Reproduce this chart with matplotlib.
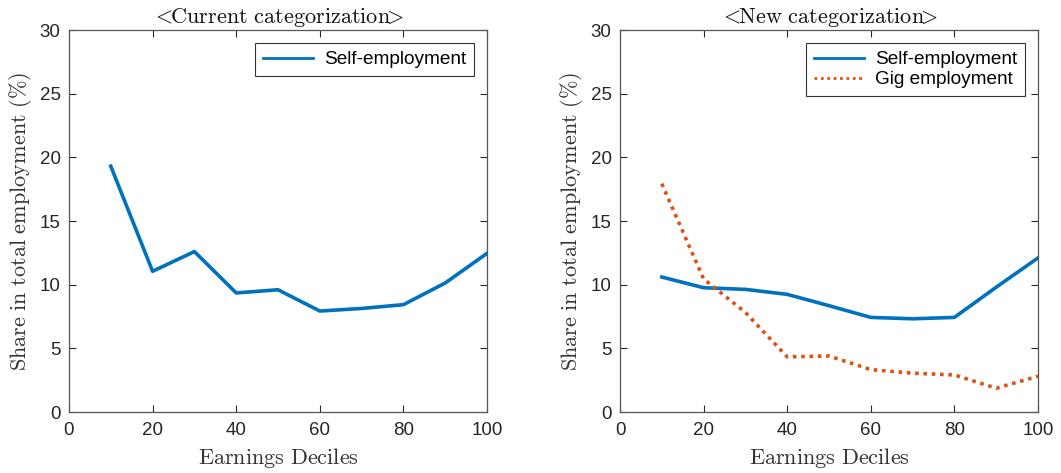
import matplotlib
matplotlib.use("Agg")
import matplotlib.pyplot as plt

# Earnings deciles (percentile upper bounds)
deciles = [10, 20, 30, 40, 50, 60, 70, 80, 90, 100]

# Current categorization: self-employment share (%)
self_emp_current = [19.3, 11.05, 12.6, 9.35, 9.6, 7.93, 8.13, 8.43, 10.13, 12.46]

# New categorization: self-employment and gig employment shares (%)
self_emp_new = [10.6, 9.76, 9.63, 9.24, 8.35, 7.43, 7.32, 7.43, 9.8, 12.1]
gig_emp_new = [17.93, 10.45, 7.82, 4.33, 4.4, 3.33, 3.05, 2.91, 1.87, 2.81]

titles = [r"$<\!\!\mathrm{Current\ categorization}\!\!>$",
          r"$<\!\!\mathrm{New\ categorization}\!\!>$"]
xlabel = r"$\mathrm{Earnings\ Deciles}$"
ylabel = r"$\mathrm{Share\ in\ total\ employment\ (\%)}$"
xticks = [0, 20, 40, 60, 80, 100]
yticks = [0, 5, 10, 15, 20, 25, 30]

BLUE = "#0072BD"
ORANGE = "#D95319"
AXCOL = "#262626"

plt.rcParams["mathtext.fontset"] = "cm"
plt.rcParams["font.family"] = ["Liberation Sans", "DejaVu Sans"]

fig = plt.figure(figsize=(10.61, 4.73), dpi=100)
W, H = 1061, 473
ax_l = fig.add_axes([69 / W, (H - 412) / H, 418 / W, 382 / H])
ax_r = fig.add_axes([620 / W, (H - 412) / H, 418 / W, 382 / H])

ax_l.plot(deciles, self_emp_current, color=BLUE, lw=2.6, label="Self-employment")
ax_r.plot(deciles, self_emp_new, color=BLUE, lw=2.6, label="Self-employment")
ax_r.plot(deciles, gig_emp_new, color=ORANGE, lw=2.6, ls=(0, (1, 1.3)),
          label="Gig employment")

for ax, title in zip([ax_l, ax_r], titles):
    ax.set_xlim(0, 100)
    ax.set_ylim(0, 30)
    ax.set_xticks(xticks)
    ax.set_yticks(yticks)
    ax.tick_params(direction="in", top=True, right=True, length=5, width=0.8,
                   colors=AXCOL, labelsize=13.5)
    ax.tick_params(axis="x", pad=7)
    ax.tick_params(axis="y", pad=6)
    for s in ax.spines.values():
        s.set_color("#555555")
        s.set_linewidth(0.9)
    ax.set_title(title, fontsize=16, pad=5, color="#111111")
    ax.set_xlabel(xlabel, fontsize=16, labelpad=5, color="#333333")
    ax.set_ylabel(ylabel, fontsize=16, labelpad=4, color="#333333")
    leg = ax.legend(loc="upper right", fontsize=13.7, frameon=True, fancybox=False,
                    edgecolor="#333333", framealpha=1, handlelength=2.6,
                    borderaxespad=0.7, borderpad=0.4, labelspacing=0.15,
                    handletextpad=0.6)
    leg.get_frame().set_linewidth(0.8)
    for ln in leg.get_lines():
        ln.set_linewidth(2.0)

fig.savefig("out.png", dpi=100)
